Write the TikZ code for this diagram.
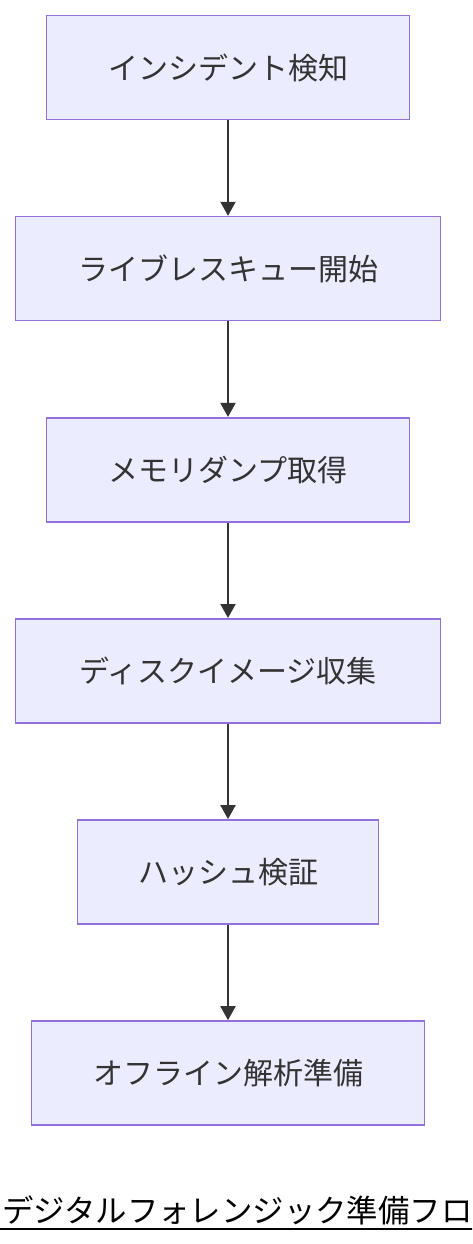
\documentclass[tikz,border=0pt]{standalone}
\usepackage{fontspec}
\setmainfont{Noto Sans CJK JP}
\usepackage{tikz}
\usetikzlibrary{arrows.meta, positioning}
\usepackage{xcolor}
\definecolor{boxfill}{HTML}{ECECFF}
\definecolor{boxline}{HTML}{9370DB}
\definecolor{darkgray}{HTML}{333333}

\begin{document}
\begin{tikzpicture}[
x=1pt, y=1pt,
node distance=95.5pt,
box/.style={draw=boxline, fill=boxfill, line width=1.6pt, rectangle,
minimum height=104pt,
text=darkgray, font=\fontsize{30pt}{36pt}\selectfont,
align=center},
arrow/.style={-{Triangle[length=14pt, width=15pt]}, line width=2pt, draw=darkgray}
]
\useasboundingbox (0,0) rectangle (472,-1244);
\clip (0,0) rectangle (472,-1244);

\node[box, minimum width=363pt] (detect) at (228,-67.5) {インシデント検知};
\node[box, minimum width=425pt, below=of detect] (rescue) {ライブレスキュー開始};
\node[box, minimum width=363pt, below=of rescue] (memdump) {メモリダンプ取得};
\node[box, minimum width=425pt, below=of memdump] (diskimg) {ディスクイメージ収集};
\node[box, minimum width=301pt, below=of diskimg] (hash) {ハッシュ検証};
\node[box, minimum width=393pt, below=of hash] (offline) {オフライン解析準備};

\draw[arrow] (detect) -- (rescue);
\draw[arrow] (rescue) -- (memdump);
\draw[arrow] (memdump) -- (diskimg);
\draw[arrow] (diskimg) -- (hash);
\draw[arrow] (hash) -- (offline);

% title, cut off at the right edge
\node[anchor=base west, inner sep=0pt, font=\fontsize{31.4pt}{36pt}\selectfont] (title) at (2,-1222) {デジタルフォレンジック準備フロー};
\draw[line width=2pt] ([xshift=-2pt, yshift=-7pt]title.base west) -- ([yshift=-7pt]title.base east);
\end{tikzpicture}
\end{document}
